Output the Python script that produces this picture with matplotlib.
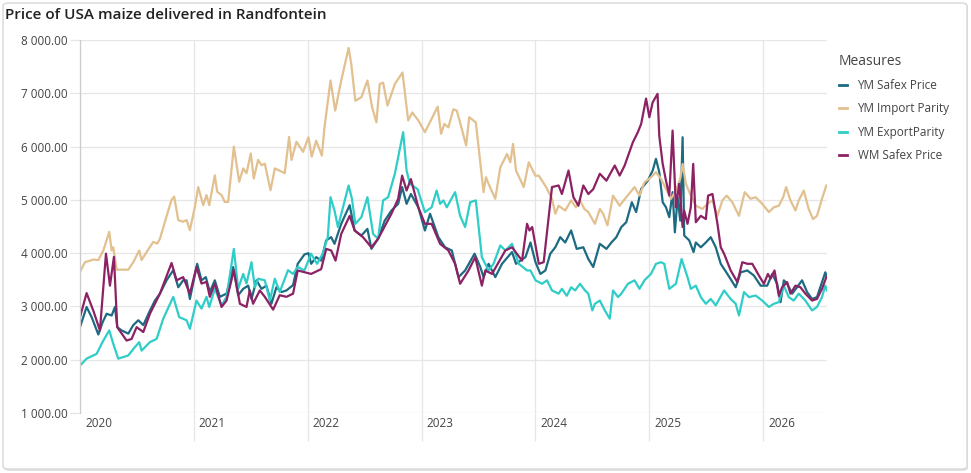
import matplotlib
matplotlib.use("Agg")
import matplotlib.pyplot as plt
from matplotlib.ticker import FuncFormatter, FixedLocator
from matplotlib.patches import FancyBboxPatch
import matplotlib.transforms as mtransforms

plt.rcParams['font.family'] = ['Open Sans', 'DejaVu Sans']

title = "Price of USA maize delivered in Randfontein"
legend_title = "Measures"
series_names = ["YM Safex Price", "YM Import Parity", "YM ExportParity", "WM Safex Price"]
colors = ["#1d6b82", "#e2c08f", "#2fcdc8", "#8c2163"]
year_ticks = [2020, 2021, 2022, 2023, 2024, 2025, 2026]
y_ticks = [1000, 2000, 3000, 4000, 5000, 6000, 7000, 8000]

# decimal-year dates and values per series
ym_safex_t = [2020.000, 2020.058, 2020.102, 2020.161, 2020.199, 2020.234, 2020.278, 2020.307, 2020.327,
              2020.365, 2020.424, 2020.468, 2020.512, 2020.556, 2020.614, 2020.658, 2020.702, 2020.760,
              2020.819, 2020.863, 2020.906, 2020.936, 2020.965, 2021.029, 2021.067, 2021.105, 2021.140,
              2021.184, 2021.228, 2021.287, 2021.345, 2021.389, 2021.433, 2021.477, 2021.506, 2021.550,
              2021.594, 2021.637, 2021.681, 2021.725, 2021.769, 2021.813, 2021.871, 2021.912, 2021.971,
              2022.006, 2022.030, 2022.074, 2022.118, 2022.162, 2022.206, 2022.235, 2022.294, 2022.368,
              2022.412, 2022.471, 2022.524, 2022.559, 2022.618, 2022.676, 2022.735, 2022.794, 2022.829,
              2022.868, 2022.906, 2022.971, 2023.029, 2023.074, 2023.147, 2023.206, 2023.265, 2023.324,
              2023.382, 2023.465, 2023.515, 2023.544, 2023.588, 2023.647, 2023.706, 2023.794, 2023.829,
              2023.912, 2023.956, 2024.000, 2024.043, 2024.087, 2024.130, 2024.174, 2024.217, 2024.261,
              2024.313, 2024.362, 2024.420, 2024.464, 2024.507, 2024.565, 2024.623, 2024.667, 2024.710,
              2024.754, 2024.797, 2024.846, 2024.884, 2024.928, 2024.986, 2025.029, 2025.058, 2025.087,
              2025.117, 2025.146, 2025.175, 2025.204, 2025.224, 2025.248, 2025.271, 2025.292, 2025.306,
              2025.350, 2025.388, 2025.408, 2025.452, 2025.496, 2025.539, 2025.583, 2025.627, 2025.685,
              2025.758, 2025.802, 2025.860, 2025.918, 2025.977, 2026.035, 2026.079, 2026.122, 2026.152,
              2026.181, 2026.210, 2026.254, 2026.297, 2026.341, 2026.385, 2026.429, 2026.472, 2026.516,
              2026.545, 2026.560]
ym_safex_v = [2611, 2990, 2800, 2473, 2705, 2862, 2830, 2990, 2611,
              2550, 2490, 2650, 2740, 2650, 2920, 3110, 3240, 3490,
              3680, 3360, 3490, 3490, 3140, 3800, 3490, 3550, 3270,
              3490, 3180, 3240, 3740, 3210, 3330, 3390, 3140, 3490,
              3330, 3390, 3050, 3360, 3270, 3300, 3400, 3800, 3975,
              4000, 3800, 3925, 3860, 4240, 4300, 4175, 4550, 4900,
              4425, 4330, 4455, 4080, 4270, 4610, 4800, 4925, 5240,
              4925, 5110, 4860, 4425, 4740, 4300, 4110, 4050, 3550,
              3675, 3990, 3740, 3550, 3800, 3550, 3800, 4020, 3800,
              3925, 4200, 3830, 3610, 3675, 3990, 4110, 4300, 4200,
              4425, 4080, 4110, 3890, 3740, 4175, 4080, 4200, 4300,
              4490, 4580, 4955, 4770, 5205, 5360, 5550, 5770, 5520,
              4955, 4860, 4675, 5145, 4390, 5050, 4610, 6175, 4330,
              4240, 4020, 4200, 4110, 4200, 4300, 4110, 3800, 3610,
              3360, 3640, 3675, 3580, 3390, 3390, 3610, 3425, 3080,
              3490, 3425, 3240, 3360, 3490, 3270, 3140, 3175, 3456,
              3640, 3550]

ym_import_t = [2020.000, 2020.044, 2020.117, 2020.161, 2020.205, 2020.257, 2020.278, 2020.292, 2020.322,
               2020.424, 2020.468, 2020.520, 2020.541, 2020.585, 2020.643, 2020.678, 2020.702, 2020.746,
               2020.804, 2020.827, 2020.863, 2020.906, 2020.936, 2020.965, 2021.009, 2021.038, 2021.082,
               2021.111, 2021.135, 2021.184, 2021.205, 2021.243, 2021.272, 2021.301, 2021.351, 2021.398,
               2021.433, 2021.462, 2021.500, 2021.526, 2021.564, 2021.594, 2021.623, 2021.673, 2021.711,
               2021.798, 2021.836, 2021.857, 2021.901, 2021.959, 2022.006, 2022.035, 2022.074, 2022.124,
               2022.147, 2022.200, 2022.241, 2022.294, 2022.359, 2022.382, 2022.418, 2022.471, 2022.524,
               2022.565, 2022.603, 2022.632, 2022.662, 2022.700, 2022.765, 2022.832, 2022.882, 2022.918,
               2022.971, 2023.029, 2023.088, 2023.141, 2023.171, 2023.200, 2023.235, 2023.279, 2023.309,
               2023.353, 2023.391, 2023.418, 2023.476, 2023.544, 2023.565, 2023.588, 2023.647, 2023.691,
               2023.750, 2023.779, 2023.803, 2023.829, 2023.897, 2023.941, 2024.000, 2024.029, 2024.058,
               2024.093, 2024.145, 2024.174, 2024.203, 2024.261, 2024.313, 2024.354, 2024.391, 2024.429,
               2024.464, 2024.522, 2024.565, 2024.594, 2024.632, 2024.681, 2024.739, 2024.797, 2024.870,
               2024.913, 2024.957, 2025.015, 2025.058, 2025.102, 2025.146, 2025.190, 2025.233, 2025.271,
               2025.292, 2025.321, 2025.364, 2025.408, 2025.466, 2025.510, 2025.554, 2025.598, 2025.641,
               2025.679, 2025.729, 2025.787, 2025.837, 2025.889, 2025.933, 2025.991, 2026.050, 2026.093,
               2026.137, 2026.175, 2026.201, 2026.239, 2026.283, 2026.312, 2026.356, 2026.399, 2026.437,
               2026.472, 2026.516, 2026.554]
ym_import_v = [3650, 3830, 3880, 3870, 4050, 4400, 4050, 4110, 3690,
               3690, 3830, 4050, 3870, 4020, 4210, 4180, 4270, 4590,
               5000, 5060, 4620, 4590, 4620, 4430, 4870, 5240, 4900,
               5090, 4900, 5460, 5150, 5090, 4960, 4960, 6000, 5340,
               5590, 5500, 5870, 5400, 5750, 5650, 5680, 5180, 5590,
               5500, 6180, 5750, 6090, 5900, 6175, 5810, 6110, 5830,
               6360, 7240, 6675, 7240, 7850, 7550, 6860, 6925, 7240,
               6740, 6455, 7175, 7200, 6770, 7175, 7390, 6490, 6640,
               6490, 6270, 6520, 6750, 6240, 6425, 6360, 6700, 6675,
               6330, 6020, 6550, 6455, 5145, 5425, 5300, 5020, 5610,
               5860, 5705, 6050, 5550, 5240, 5705, 5450, 5456, 5360,
               5240, 5020, 4740, 4890, 4800, 4990, 4860, 4990, 4830,
               4770, 4550, 4830, 4740, 4520, 5080, 4890, 5050, 5240,
               5080, 5330, 5425, 5520, 5395, 5205, 5020, 5175, 5395,
               5675, 5300, 5080, 4890, 4830, 4925, 4990, 4700, 4990,
               5080, 4955, 4700, 5145, 5020, 5050, 4925, 4770, 4860,
               4890, 5050, 5240, 4990, 4800, 4990, 5175, 4830, 4640,
               4700, 5020, 5270]

ym_export_t = [2020.000, 2020.058, 2020.146, 2020.205, 2020.257, 2020.292, 2020.336, 2020.424, 2020.468,
               2020.520, 2020.541, 2020.614, 2020.673, 2020.731, 2020.819, 2020.871, 2020.936, 2020.965,
               2021.023, 2021.067, 2021.111, 2021.135, 2021.184, 2021.243, 2021.287, 2021.351, 2021.389,
               2021.433, 2021.462, 2021.506, 2021.535, 2021.564, 2021.623, 2021.667, 2021.711, 2021.754,
               2021.827, 2021.871, 2021.912, 2021.971, 2022.029, 2022.082, 2022.132, 2022.176, 2022.200,
               2022.235, 2022.265, 2022.359, 2022.388, 2022.418, 2022.471, 2022.524, 2022.574, 2022.618,
               2022.662, 2022.706, 2022.765, 2022.838, 2022.868, 2022.897, 2022.965, 2023.029, 2023.088,
               2023.132, 2023.162, 2023.191, 2023.221, 2023.294, 2023.338, 2023.382, 2023.426, 2023.476,
               2023.529, 2023.588, 2023.632, 2023.691, 2023.735, 2023.794, 2023.853, 2023.926, 2023.956,
               2024.000, 2024.058, 2024.101, 2024.145, 2024.203, 2024.232, 2024.275, 2024.313, 2024.348,
               2024.391, 2024.435, 2024.464, 2024.499, 2024.522, 2024.565, 2024.609, 2024.652, 2024.681,
               2024.725, 2024.754, 2024.812, 2024.870, 2024.913, 2024.957, 2025.014, 2025.058, 2025.102,
               2025.131, 2025.175, 2025.233, 2025.283, 2025.335, 2025.364, 2025.408, 2025.452, 2025.496,
               2025.539, 2025.583, 2025.656, 2025.714, 2025.758, 2025.787, 2025.831, 2025.875, 2025.933,
               2025.991, 2026.050, 2026.093, 2026.137, 2026.181, 2026.224, 2026.268, 2026.312, 2026.370,
               2026.429, 2026.472, 2026.516, 2026.545, 2026.560]
ym_export_v = [1890, 2020, 2110, 2360, 2550, 2300, 2020, 2080, 2200,
               2330, 2170, 2330, 2390, 2770, 3180, 2800, 2740, 2580,
               3110, 2960, 3180, 2990, 3330, 3020, 3180, 4080, 3330,
               3610, 3430, 3830, 3360, 3520, 3490, 3110, 3520, 3270,
               3680, 3610, 3740, 3675, 3990, 3800, 3990, 4300, 5050,
               4800, 4490, 5270, 5020, 4550, 4675, 5050, 4360, 4270,
               4990, 5050, 5490, 6270, 5550, 5300, 5200, 4770, 4860,
               5175, 4925, 4990, 4860, 5145, 4700, 4490, 4955, 4990,
               3925, 3675, 3800, 4145, 4050, 4175, 3800, 3675, 3675,
               3490, 3425, 3490, 3300, 3240, 3330, 3200, 3360, 3300,
               3425, 3300, 3240, 2925, 3050, 3110, 2925, 2770, 3300,
               3175, 3240, 3425, 3490, 3330, 3490, 3610, 3800, 3830,
               3800, 3330, 3425, 3890, 3550, 3330, 3390, 3175, 3050,
               3140, 3020, 3300, 3140, 3050, 2830, 3270, 3175, 3205,
               3110, 2990, 3050, 3080, 3390, 3175, 3110, 3240, 3110,
               2925, 2990, 3175, 3390, 3300]

wm_safex_t = [2020.000, 2020.058, 2020.117, 2020.175, 2020.228, 2020.263, 2020.298, 2020.327, 2020.409,
              2020.453, 2020.497, 2020.556, 2020.614, 2020.702, 2020.804, 2020.848, 2020.906, 2020.965,
              2021.023, 2021.067, 2021.111, 2021.140, 2021.184, 2021.243, 2021.287, 2021.351, 2021.404,
              2021.462, 2021.491, 2021.520, 2021.579, 2021.623, 2021.696, 2021.754, 2021.813, 2021.871,
              2021.912, 2022.030, 2022.118, 2022.162, 2022.206, 2022.244, 2022.294, 2022.368, 2022.412,
              2022.485, 2022.559, 2022.618, 2022.735, 2022.794, 2022.829, 2022.868, 2022.906, 2022.971,
              2023.029, 2023.088, 2023.162, 2023.235, 2023.294, 2023.338, 2023.412, 2023.471, 2023.529,
              2023.559, 2023.618, 2023.735, 2023.794, 2023.882, 2023.926, 2023.947, 2023.971, 2024.029,
              2024.072, 2024.145, 2024.203, 2024.232, 2024.290, 2024.333, 2024.377, 2024.420, 2024.464,
              2024.507, 2024.565, 2024.623, 2024.696, 2024.739, 2024.783, 2024.855, 2024.899, 2024.928,
              2024.971, 2025.000, 2025.029, 2025.072, 2025.087, 2025.117, 2025.146, 2025.175, 2025.204,
              2025.233, 2025.262, 2025.292, 2025.306, 2025.335, 2025.364, 2025.385, 2025.408, 2025.452,
              2025.496, 2025.516, 2025.554, 2025.598, 2025.627, 2025.656, 2025.714, 2025.773, 2025.816,
              2025.860, 2025.904, 2025.962, 2026.006, 2026.041, 2026.064, 2026.099, 2026.137, 2026.166,
              2026.210, 2026.239, 2026.283, 2026.327, 2026.370, 2026.429, 2026.472, 2026.516, 2026.554]
wm_safex_v = [2800, 3250, 2920, 2550, 3990, 3390, 3930, 2611, 2360,
              2390, 2611, 2520, 2862, 3240, 3815, 3490, 3550, 3240,
              3740, 3430, 3460, 3180, 3430, 2990, 3110, 3680, 3050,
              2990, 3300, 3050, 3300, 3180, 2940, 3210, 3180, 3240,
              3675, 3610, 3700, 4080, 4050, 3860, 4360, 4700, 4425,
              4300, 4110, 4270, 4740, 5020, 5455, 5175, 5390, 4860,
              4550, 4550, 4175, 4050, 3800, 3425, 3675, 3925, 3390,
              3675, 3610, 4050, 4110, 3860, 4550, 4425, 4490, 3800,
              3830, 5240, 5270, 5110, 5550, 5050, 4890, 5270, 5110,
              5200, 5490, 5360, 5645, 5456, 5645, 6080, 6270, 6425,
              6900, 6550, 6830, 6990, 6200, 5675, 5360, 5080, 6300,
              4860, 5300, 4490, 4800, 4550, 4860, 5675, 4580, 4700,
              4640, 5080, 5110, 4550, 4110, 3990, 3675, 3456, 3830,
              3800, 3800, 3580, 3425, 3610, 3520, 3675, 3200, 3360,
              3456, 3240, 3390, 3360, 3240, 3110, 3140, 3330, 3550]

series_t = [ym_safex_t, ym_import_t, ym_export_t, wm_safex_t]
series_v = [ym_safex_v, ym_import_v, ym_export_v, wm_safex_v]

W, H = 971, 473
fig = plt.figure(figsize=(W / 100, H / 100), dpi=100)
fig.patch.set_facecolor("white")

# card shadow + border
shadow = FancyBboxPatch((4 / W, 2 / H), 964 / W, 466 / H,
                        boxstyle="round,pad=0,rounding_size=0.006",
                        transform=fig.transFigure, facecolor="#e2e2e2",
                        edgecolor="none", zorder=-11)
fig.patches.append(shadow)
card = FancyBboxPatch((3 / W, 4 / H), 964 / W, 466 / H,
                      boxstyle="round,pad=0,rounding_size=0.006",
                      transform=fig.transFigure, facecolor="white",
                      edgecolor="#d8d8d8", linewidth=1.0, zorder=-10)
fig.patches.append(card)

ax = fig.add_axes([80 / W, 1 - 413 / H, (827 - 80) / W, (413 - 40) / H])
ax.set_facecolor("none")

for t, v, c, n in zip(series_t, series_v, colors, series_names):
    ax.plot(t, v, color=c, lw=1.6, label=n, solid_joinstyle="round")

ax.set_xlim(2020.0, 2026.56)
ax.set_ylim(1000, 8000)

ax.xaxis.set_major_locator(FixedLocator(year_ticks))
ax.set_xticklabels([str(y) for y in year_ticks])
ax.yaxis.set_major_locator(FixedLocator(y_ticks))
ax.yaxis.set_major_formatter(FuncFormatter(lambda v, p: f"{v:,.2f}".replace(",", " ")))

ax.grid(True, color="#e6e6e6", lw=0.9)
ax.set_axisbelow(True)
for s in ["top", "right", "bottom"]:
    ax.spines[s].set_visible(False)
ax.spines["left"].set_color("#cccccc")
ax.spines["left"].set_linewidth(0.9)

ax.tick_params(axis="x", length=20, width=0.9, color="#e6e6e6", pad=-17,
               labelsize=8.5, labelcolor="#444444")
ax.tick_params(axis="y", length=7, width=0.9, color="#e6e6e6", pad=2,
               labelsize=8.5, labelcolor="#444444")
ax.xaxis.get_major_ticks()[0].tick1line.set_visible(False)
offset = mtransforms.ScaledTranslation(5 / 100, 0, fig.dpi_scale_trans)
for lab in ax.get_xticklabels():
    lab.set_horizontalalignment("left")
    lab.set_transform(lab.get_transform() + offset)

fig.text(5 / W, 1 - 15 / H, title, fontsize=11, fontweight="semibold",
         color="#222222", va="center", ha="left")

leg = fig.legend(loc="upper left", bbox_to_anchor=(828 / W, 1 - 43 / H),
                 title=legend_title, frameon=False, fontsize=8.5,
                 title_fontsize=10, handlelength=0.7, handletextpad=0.9,
                 labelspacing=0.88, alignment="left")
leg.get_title().set_color("#444444")
for txt in leg.get_texts():
    txt.set_color("#444444")
for line in leg.get_lines():
    line.set_linewidth(2)

fig.savefig("out.png", dpi=100, facecolor="white")
